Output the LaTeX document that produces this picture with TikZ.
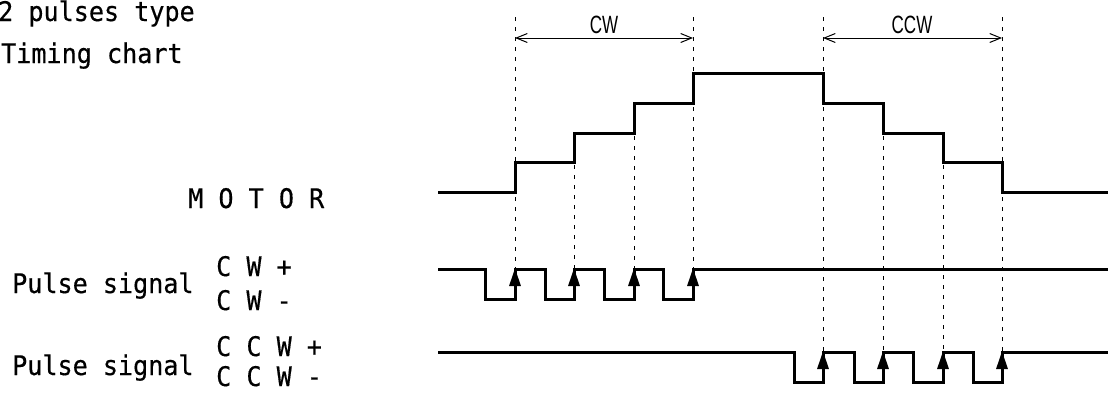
\documentclass[tikz,border=0pt]{standalone}
\usepackage{fontspec}
\usetikzlibrary{arrows.meta}
\newfontfamily\monof[FakeStretch=0.93,FakeBold=0.4]{DejaVu Sans Mono}
\newfontfamily\narrowf[FakeStretch=0.68]{Liberation Sans}
\tikzset{
  txt/.style={inner sep=0pt, anchor=base west, text depth=0pt, font=\monof\fontsize{27pt}{30pt}\selectfont},
  dimlab/.style={inner sep=0pt, anchor=base, font=\narrowf\fontsize{25pt}{28pt}\selectfont},
  sig/.style={line width=3pt, line join=miter},
  guide/.style={line width=1pt, dash pattern=on 4pt off 6pt},
  dimline/.style={line width=1pt, {Straight Barb[length=11pt,width=9pt]}-{Straight Barb[length=11pt,width=9pt]}},
  edge/.style={line width=3pt, -{Triangle[length=18pt,width=11pt]}}
}
\begin{document}
\begin{tikzpicture}[x=1pt,y=-1pt]
\useasboundingbox (0,0) rectangle (1108,394);
% texts
\node[txt] (title1) at (-2,21) {2 pulses type};
\node[txt] (title2) at (1,63) {Timing chart};
\node[txt] (motor) at (188,208) {M O T O R};
\node[txt] (cwsig) at (12,293) {Pulse signal};
\node[txt] (cwp) at (216,276) {C W +};
\node[txt] (cwm) at (216,310) {C W -};
\node[txt] (ccwsig) at (12,375) {Pulse signal};
\node[txt] (ccwp) at (216,356) {C C W +};
\node[txt] (ccwm) at (216,386) {C C W -};
% dimension arrows
\coordinate (a1) at (515,38);
\coordinate (a2) at (693,38);
\coordinate (b1) at (823,38);
\coordinate (b2) at (1002,38);
\draw[dimline] (a1) -- (a2);
\draw[dimline] (b1) -- (b2);
\node[dimlab] (cwlab) at (604,33) {CW};
\node[dimlab] (ccwlab) at (912,33) {CCW};
% guide lines
\draw[guide] (515,17) -- (515,269);
\draw[guide] (574,165) -- (574,269);
\draw[guide] (634,136) -- (634,269);
\draw[guide] (693,17) -- (693,269);
\draw[guide] (823,17) -- (823,352);
\draw[guide] (883,136) -- (883,352);
\draw[guide] (943,165) -- (943,352);
\draw[guide] (1002,17) -- (1002,352);
% motor
\draw[sig] (438,192) -- (515,192) -- (515,162) -- (574,162) -- (574,133) -- (634,133) -- (634,103) -- (693,103) -- (693,73) -- (823,73) -- (823,103) -- (883,103) -- (883,133) -- (943,133) -- (943,162) -- (1002,162) -- (1002,192) -- (1108,192);
% CW pulses
\draw[sig] (438,269) -- (485,269) -- (485,299) -- (515,299) -- (515,269) -- (545,269) -- (545,299) -- (574,299) -- (574,269) -- (604,269) -- (604,299) -- (634,299) -- (634,269) -- (663,269) -- (663,299) -- (693,299) -- (693,269) -- (1108,269);
\foreach \x in {515,574,634,693} \draw[edge] (\x,299) -- (\x,268);
% CCW pulses
\draw[sig] (438,352) -- (794,352) -- (794,382) -- (823,382) -- (823,352) -- (854,352) -- (854,382) -- (883,382) -- (883,352) -- (913,352) -- (913,382) -- (943,382) -- (943,352) -- (973,352) -- (973,382) -- (1002,382) -- (1002,352) -- (1108,352);
\foreach \x in {823,883,943,1002} \draw[edge] (\x,382) -- (\x,351);
\end{tikzpicture}
\end{document}
